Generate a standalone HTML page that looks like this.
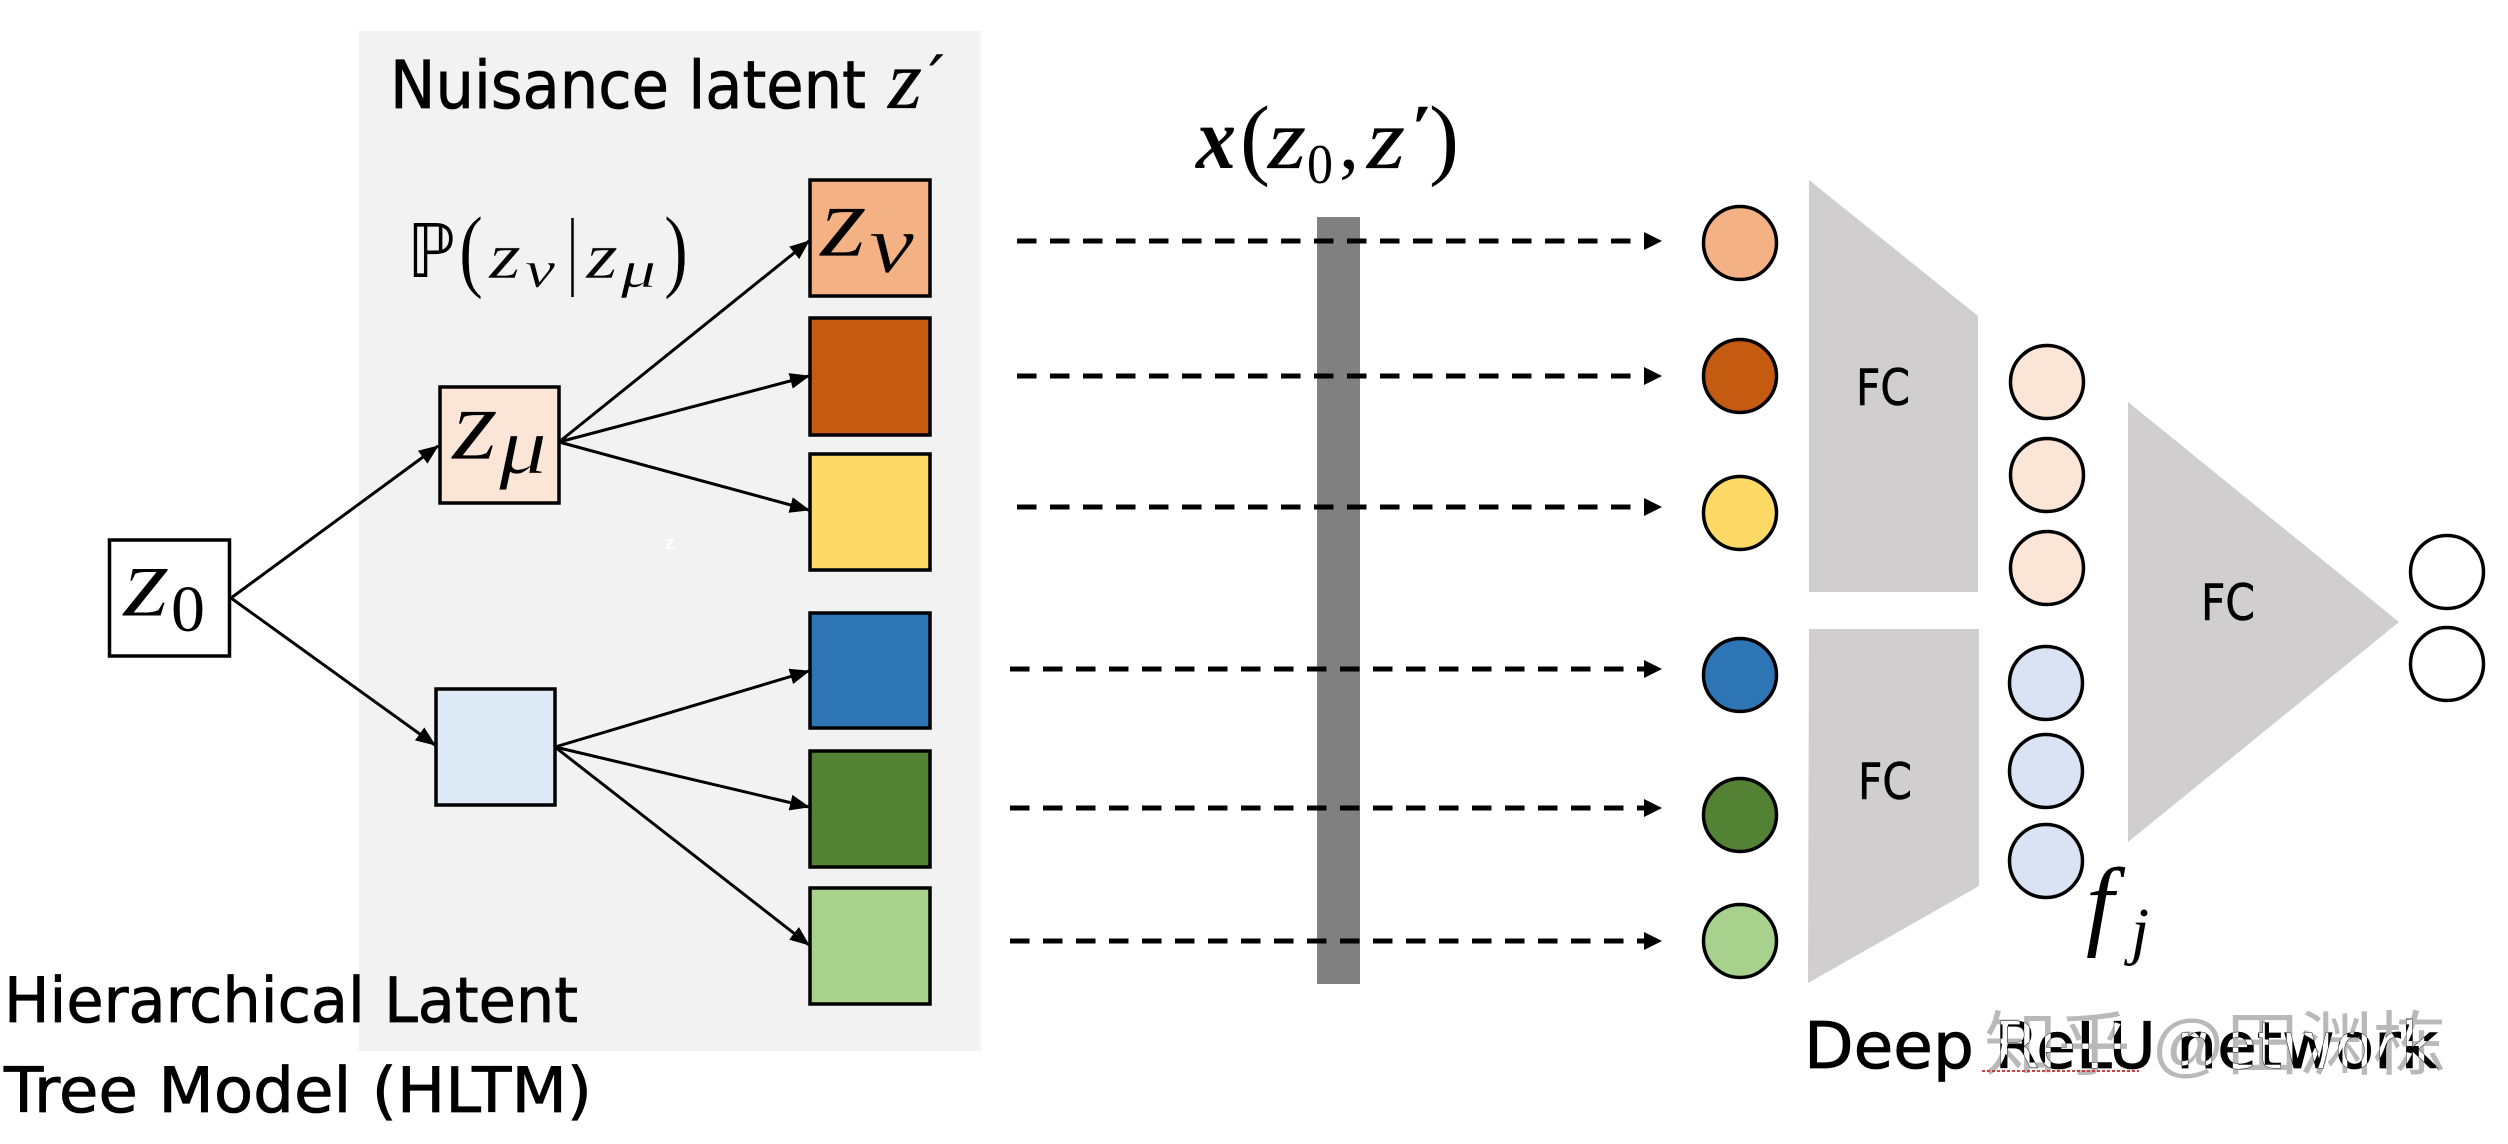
<!DOCTYPE html>
<html><head><meta charset="utf-8"><style>
html,body{margin:0;padding:0;background:#fff;width:2508px;height:1144px;overflow:hidden}
svg{display:block}
.s{font-family:"DejaVu Sans","Liberation Sans",sans-serif;fill:#000}
.t{stroke:#000;stroke-width:.8}
.m{font-family:"Liberation Serif",serif;font-style:italic;fill:#000}
.c{font-family:"Liberation Serif",serif;fill:#000}
.b{stroke:#000;stroke-width:3.5}
.a{stroke:#000;stroke-width:3;fill:none}
.d{stroke:#000;stroke-width:5;stroke-dasharray:19.5 13.5;fill:none}
.w{font-family:"Liberation Sans","Noto Sans CJK SC",sans-serif}
</style></head><body>
<svg width="2508" height="1144" viewBox="0 0 2508 1144" xmlns="http://www.w3.org/2000/svg">
<defs>
<marker id="h" markerUnits="userSpaceOnUse" markerWidth="20" markerHeight="16" refX="19" refY="8" orient="auto"><path d="M0 0L20 8L0 16z" fill="#000"/></marker>
<clipPath id="cut"><text class="s" x="1804" y="1068" font-size="64" textLength="634" lengthAdjust="spacingAndGlyphs">Deep ReLU network</text></clipPath>
</defs>
<rect x="359" y="31" width="622" height="1020" fill="#f2f2f2"/>

<!-- Labels -->
<text class="s t" x="390" y="108" font-size="66" textLength="476" lengthAdjust="spacingAndGlyphs">Nuisance latent</text>
<text class="m" x="888" y="108" font-size="84" textLength="34" lengthAdjust="spacingAndGlyphs" stroke="#000" stroke-width=".3">z</text>
<text class="s" x="930" y="96" font-size="56" font-style="italic" stroke="#000" stroke-width="1">′</text>

<text class="s t" x="4" y="1022" font-size="62" textLength="574" lengthAdjust="spacingAndGlyphs">Hierarchical Latent</text>
<text class="s t" x="4" y="1112" font-size="62" textLength="588" lengthAdjust="spacingAndGlyphs">Tree Model (HLTM)</text>

<!-- P(z|z) -->
<text class="s" x="407" y="277" font-size="74" textLength="48" lengthAdjust="spacingAndGlyphs">ℙ</text>
<g stroke="#f2f2f2" stroke-width=".5">
<text class="c" x="459" y="280" font-size="92" textLength="24" lengthAdjust="spacingAndGlyphs">(</text>
<text class="m" x="489" y="278" font-size="66" textLength="32" lengthAdjust="spacingAndGlyphs">z</text>
<text class="m" x="525" y="287" font-size="52" textLength="30" lengthAdjust="spacingAndGlyphs">ν</text>
<text class="m" x="586" y="278" font-size="66" textLength="32" lengthAdjust="spacingAndGlyphs">z</text>
<text class="m" x="621" y="287" font-size="52" textLength="35" lengthAdjust="spacingAndGlyphs">μ</text>
<text class="c" x="664" y="280" font-size="92" textLength="24" lengthAdjust="spacingAndGlyphs">)</text>
</g>
<line x1="572.500" y1="218" x2="572.500" y2="297" stroke="#000" stroke-width="2.500"/>

<!-- Tree nodes -->
<rect class="b" x="109.500" y="540" width="120" height="116" fill="#fff"/>
<rect class="b" x="440" y="387" width="119" height="116" fill="#fbe5d6"/>
<rect class="b" x="436" y="689" width="119" height="116" fill="#deebf7"/>
<rect class="b" x="810" y="180" width="120" height="116" fill="#f4b183"/>
<rect class="b" x="810" y="318" width="120" height="117" fill="#c55a11"/>
<rect class="b" x="810" y="454" width="120" height="116" fill="#ffd966"/>
<rect class="b" x="810" y="613" width="120" height="115" fill="#2e75b6"/>
<rect class="b" x="810" y="751" width="120" height="116" fill="#548235"/>
<rect class="b" x="810" y="888" width="120" height="116" fill="#a9d18e"/>

<text class="m" x="123" y="616" font-size="104" textLength="47" lengthAdjust="spacingAndGlyphs" stroke="#fff" stroke-width="1">z</text>
<text class="c" x="171" y="631" font-size="66" textLength="34" lengthAdjust="spacingAndGlyphs">0</text>
<g stroke="#fbe5d6" stroke-width=".8">
<text class="m" x="452" y="459" font-size="104" textLength="46" lengthAdjust="spacingAndGlyphs">z</text>
<text class="m" x="499" y="473" font-size="80" textLength="48" lengthAdjust="spacingAndGlyphs">μ</text>
</g>
<g stroke="#f4b183" stroke-width=".8">
<text class="m" x="820" y="256" font-size="104" textLength="47" lengthAdjust="spacingAndGlyphs">z</text>
<text class="m" x="869" y="272" font-size="84" textLength="45" lengthAdjust="spacingAndGlyphs">ν</text>
</g>
<text x="670" y="549" font-family="Liberation Sans,sans-serif" font-size="18" font-weight="700" fill="#fff" text-anchor="middle">z</text>

<!-- Tree arrows -->
<line class="a" x1="231" y1="598" x2="438" y2="446" marker-end="url(#h)"/>
<line class="a" x1="231" y1="598" x2="435" y2="745" marker-end="url(#h)"/>
<line class="a" x1="559" y1="442" x2="809" y2="241" marker-end="url(#h)"/>
<line class="a" x1="559" y1="442" x2="809" y2="376" marker-end="url(#h)"/>
<line class="a" x1="559" y1="442" x2="809" y2="510" marker-end="url(#h)"/>
<line class="a" x1="555" y1="747" x2="809" y2="671" marker-end="url(#h)"/>
<line class="a" x1="555" y1="747" x2="809" y2="807" marker-end="url(#h)"/>
<line class="a" x1="555" y1="747" x2="809" y2="945" marker-end="url(#h)"/>

<!-- Bar -->
<rect x="1317" y="217" width="43" height="767" fill="#808080"/>

<!-- Dashed -->
<line class="d" x1="1017" y1="241" x2="1648" y2="241"/>
<line class="d" x1="1017" y1="376" x2="1648" y2="376"/>
<line class="d" x1="1017" y1="507" x2="1648" y2="507"/>
<line class="d" x1="1010" y1="669" x2="1648" y2="669"/>
<line class="d" x1="1010" y1="808" x2="1648" y2="808"/>
<line class="d" x1="1010" y1="941" x2="1648" y2="941"/>
<g fill="#000">
<path d="M1644 232L1662 241L1644 250z"/>
<path d="M1644 367L1662 376L1644 385z"/>
<path d="M1644 498L1662 507L1644 516z"/>
<path d="M1644 660L1662 669L1644 678z"/>
<path d="M1644 799L1662 808L1644 817z"/>
<path d="M1644 932L1662 941L1644 950z"/>
</g>

<!-- x(z0,z') -->
<text x="1196" y="168" font-family="Liberation Serif,serif" font-style="italic" font-weight="700" font-size="88" textLength="40" lengthAdjust="spacingAndGlyphs">x</text>
<text class="c" x="1240" y="168" font-size="90" textLength="30" lengthAdjust="spacingAndGlyphs">(</text>
<text class="m" x="1268" y="168" font-size="86" textLength="38" lengthAdjust="spacingAndGlyphs" stroke="#000" stroke-width=".3">z</text>
<text class="c" x="1307" y="183" font-size="56" textLength="26" lengthAdjust="spacingAndGlyphs">0</text>
<text class="c" x="1339" y="168" font-size="80" textLength="20" lengthAdjust="spacingAndGlyphs">,</text>
<text class="m" x="1367" y="168" font-size="86" textLength="38" lengthAdjust="spacingAndGlyphs" stroke="#000" stroke-width=".3">z</text>
<text class="c" x="1405" y="148" font-size="62" font-style="italic" textLength="22" lengthAdjust="spacingAndGlyphs">′</text>
<text class="c" x="1429" y="168" font-size="90" textLength="30" lengthAdjust="spacingAndGlyphs">)</text>

<!-- FC shapes -->
<polygon points="1809,180 1978,316 1978,592 1809,592" fill="#d0cece"/>
<polygon points="1809,629 1979,629 1979,886 1808,983" fill="#d0cece"/>
<polygon points="2128,402 2399,622 2128,842" fill="#d0cece"/>
<g class="s" font-size="50" text-anchor="middle" stroke="#000" stroke-width=".6">
<text x="1883" y="405" textLength="54" lengthAdjust="spacingAndGlyphs">FC</text>
<text x="1885" y="799" textLength="54" lengthAdjust="spacingAndGlyphs">FC</text>
<text x="2228" y="620" textLength="54" lengthAdjust="spacingAndGlyphs">FC</text>
</g>

<!-- Circles -->
<g class="b">
<circle cx="1740" cy="243" r="36.500" fill="#f4b183"/>
<circle cx="1740" cy="376" r="36.500" fill="#c55a11"/>
<circle cx="1740" cy="513" r="36.500" fill="#ffd966"/>
<circle cx="1740" cy="675" r="36.500" fill="#2e75b6"/>
<circle cx="1740" cy="815" r="36.500" fill="#548235"/>
<circle cx="1740" cy="941" r="36.500" fill="#a9d18e"/>
<circle cx="2047" cy="382" r="36.500" fill="#fbe5d6"/>
<circle cx="2047" cy="475" r="36.500" fill="#fbe5d6"/>
<circle cx="2047" cy="568" r="36.500" fill="#fbe5d6"/>
<circle cx="2046" cy="683" r="36.500" fill="#dae3f3"/>
<circle cx="2046" cy="771" r="36.500" fill="#dae3f3"/>
<circle cx="2046" cy="861" r="36.500" fill="#dae3f3"/>
<circle cx="2447" cy="572" r="36.500" fill="#fff"/>
<circle cx="2447" cy="664" r="36.500" fill="#fff"/>
</g>

<!-- f_j -->
<text class="m" x="2086" y="937" font-size="100">f</text>
<text class="m" x="2131" y="952" font-size="65">j</text>

<!-- Deep ReLU + watermark -->
<text class="w" x="1984" y="1069" font-size="70" fill="#b9b9b9" textLength="462" lengthAdjust="spacingAndGlyphs">知乎 @田渊栋</text>
<text class="s t" x="1804" y="1068" font-size="64" textLength="634" lengthAdjust="spacingAndGlyphs">Deep ReLU network</text>
<text class="w" x="1984" y="1069" font-size="70" fill="#fff" textLength="462" lengthAdjust="spacingAndGlyphs" clip-path="url(#cut)">知乎 @田渊栋</text>
<line x1="1982" y1="1071" x2="2139" y2="1071" stroke="#d04040" stroke-width="2" stroke-dasharray="3 2"/>
</svg>
</body></html>
